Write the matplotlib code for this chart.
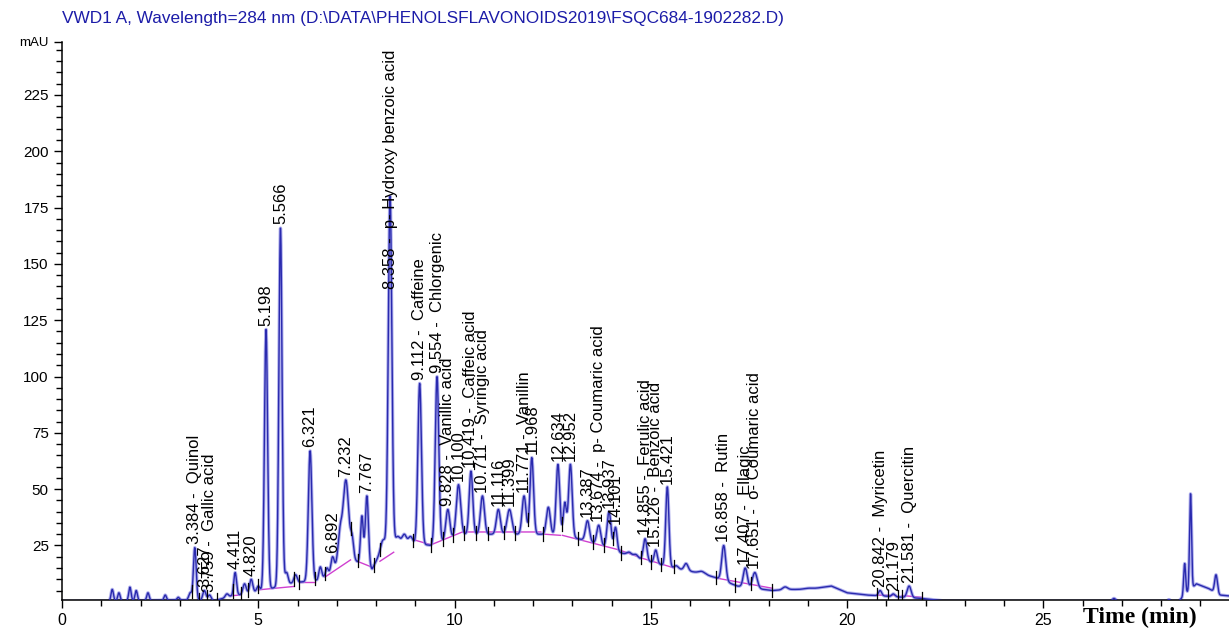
import numpy as np
import matplotlib
matplotlib.use("Agg")
import matplotlib.pyplot as plt
from matplotlib.ticker import MultipleLocator

# ---------------- data ----------------
title = r"VWD1 A, Wavelength=284 nm (D:\DATA\PHENOLSFLAVONOIDS2019\FSQC684-1902282.D)"

# labelled peaks: retention time (min), apex height (mAU), width (sigma, min), name
peak_rt = [3.384, 3.627, 3.759, 4.411, 4.820, 5.198, 5.566, 6.321, 6.892, 7.232,
           7.767, 8.358, 9.112, 9.554, 9.828, 10.100, 10.419, 10.711, 11.116, 11.399,
           11.771, 11.968, 12.634, 12.952, 13.387, 13.674, 13.937, 14.101, 14.855, 15.126,
           15.421, 16.858, 17.407, 17.651, 20.842, 21.179, 21.581]
peak_top = [24, 5, 3, 13, 10, 121, 166, 67, 20, 54,
            47, 180, 97, 100, 41, 52, 58, 47, 41, 41,
            47, 64, 61, 61, 36, 34, 40, 33, 28, 23,
            51, 25, 15, 13, 5, 3.5, 7]
peak_sigma = [0.035, 0.04, 0.04, 0.035, 0.04, 0.04, 0.04, 0.045, 0.04, 0.07,
              0.04, 0.045, 0.045, 0.045, 0.05, 0.055, 0.045, 0.05, 0.05, 0.06,
              0.05, 0.045, 0.045, 0.045, 0.05, 0.05, 0.05, 0.04, 0.045, 0.04,
              0.04, 0.05, 0.05, 0.06, 0.04, 0.04, 0.05]
peak_name = ["Quinol", "", "Gallic acid", "", "", "", "", "", "", "",
             "", "p- Hydroxy benzoic acid", "Caffeine", "Chlorgenic", "Vanillic acid", "",
             "Caffeic acid", "Syringic acid", "", "",
             "Vanillin", "", "", "", "", "p- Coumaric acid", "", "", "Ferulic acid", "Benzoic acid",
             "", "Rutin", "Ellagic", "o- Coumaric acid", "Myricetin", "", "Quercitin"]
label_override = {8.358: 139}

# unlabelled small peaks / shoulders
minor_rt = [1.28, 1.45, 1.73, 1.89, 2.19, 2.63, 2.96, 3.27, 4.20, 4.65, 5.00,
            5.72, 5.95, 6.58, 6.75, 7.08, 7.39, 7.64, 8.16, 8.55, 8.72, 8.88,
            12.39, 12.81, 14.45, 14.62, 15.65, 15.90, 16.30, 18.42, 19.00,
            26.80, 28.20, 28.60, 28.75, 29.40]
minor_top = [5.5, 4, 6.5, 5, 4, 3, 2, 4, 3.5, 8, 7,
             13, 12, 15.5, 15, 30, 27.5, 38, 27, 29, 30, 29,
             42, 44, 22, 21, 16, 17, 13.5, 6.6, 6,
             1.5, 1, 17, 48, 12]
minor_sigma = [0.03, 0.03, 0.03, 0.03, 0.03, 0.03, 0.03, 0.04, 0.04, 0.04, 0.04,
               0.04, 0.04, 0.035, 0.035, 0.05, 0.04, 0.035, 0.05, 0.05, 0.05, 0.05,
               0.05, 0.04, 0.06, 0.06, 0.05, 0.05, 0.08, 0.06, 0.1,
               0.04, 0.03, 0.025, 0.025, 0.035]

# signal floor between peaks
bg_t = [0.0, 1.0, 3.0, 3.9, 4.3, 5.0, 5.9, 6.5, 6.9, 7.1, 7.5, 7.9, 8.2, 8.6, 9.0, 9.4,
        10.2, 12.2, 12.9, 13.4, 14.2, 14.7, 15.6, 16.3, 16.7, 17.2, 18.1, 18.5, 19.0,
        19.6, 20.0, 20.5, 21.0, 21.9, 22.4, 23.5, 28.45, 28.6, 28.9, 29.2, 29.5, 29.8]
bg_h = [0.3, 0.3, 0.8, 0.5, 2.5, 4.5, 8.5, 9.5, 13, 20, 18, 14.5, 25, 27, 26, 25,
        30, 30, 29, 27, 22, 19, 15, 12.5, 10.5, 7, 5, 5.5, 5.5,
        7, 4, 3, 2.5, 1.5, 0.5, 0.3, 0.3, 3, 8, 6, 3, 2.5]

# integration baselines (magenta)
base_runs = [
    [(3.5, 0.5), (4.0, 0.5)],
    [(4.3, 2.7), (4.55, 3.0)],
    [(5.0, 5.3), (5.9, 6.8)],
    [(6.05, 9.0), (6.45, 9.0)],
    [(6.7, 11.0), (7.35, 18.6)],
    [(7.55, 17.8), (7.95, 15.0)],
    [(8.1, 18.0), (8.45, 22.0)],
    [(8.95, 27.6), (9.4, 25.3), (10.2, 31.0), (12.2, 31.0)],
    [(12.3, 30.0), (12.7, 29.5)],
    [(12.75, 29.5), (14.2, 23.0), (14.75, 19.5), (15.6, 15.0)],
    [(16.65, 10.6), (18.1, 6.0)],
    [(20.75, 3.0), (21.25, 2.8)],
    [(21.4, 2.8), (21.9, 2.0)],
]

# integration boundary marks (black)
boundary_t = [3.3, 3.5, 3.7, 3.95, 4.35, 4.55, 4.75, 5.0, 5.9, 6.05, 6.45, 6.7, 7.35,
              7.55, 7.95, 8.1, 8.95, 9.4, 9.7, 9.95, 10.25, 10.55, 10.85, 11.25, 11.55,
              11.88, 12.25, 12.73, 13.15, 13.52, 13.8, 14.03, 14.25, 14.75, 15.0, 15.27,
              15.6, 16.65, 17.15, 17.55, 18.1, 20.75, 21.05, 21.3, 21.4, 21.9]

x_ticks = [0, 5, 10, 15, 20, 25]
y_ticks = [25, 50, 75, 100, 125, 150, 175, 200, 225]
y_top = 248.5
x_max = 29.73

# ---------------- build the trace ----------------
t = np.linspace(0, x_max, 8000)
bg = np.interp(t, bg_t, bg_h)
signal = bg.copy()
for rt, top, s in zip(peak_rt + minor_rt, peak_top + minor_top, peak_sigma + minor_sigma):
    amp = top - np.interp(rt, bg_t, bg_h)
    signal += max(amp, 0) * np.exp(-0.5 * ((t - rt) / s) ** 2)

# ---------------- figure ----------------
plt.rcParams['font.family'] = ['Liberation Sans', 'DejaVu Sans']
fig = plt.figure(figsize=(12.29, 6.29), dpi=100)
ax = fig.add_axes([62 / 1229, 29 / 629, 1 - 62 / 1229, (600 - 42) / 629])

ax.plot(t, signal, color='#8f8fe6', lw=2.4, alpha=0.7, zorder=2.5)
ax.plot(t, signal, color='#2a2aae', lw=1.0, zorder=3)

for run in base_runs:
    xs, ys = zip(*run)
    ax.plot(xs, ys, color='#d040d0', lw=1.0, zorder=2)

for bt in boundary_t:
    v = np.interp(bt, t, signal)
    ax.plot([bt, bt], [v - 3, v + 3], color='black', lw=0.9, zorder=4)

for rt, top, name in zip(peak_rt, peak_top, peak_name):
    txt = f"{rt:.3f} -  {name}" if name else f"{rt:.3f}"
    yb = label_override.get(rt, top + 1.5)
    ax.text(rt, yb, txt, rotation=90, ha='center', va='bottom', fontsize=12,
            color='black', zorder=5, clip_on=False)

ax.set_xlim(0, x_max)
ax.set_ylim(0.8, y_top)
ax.set_xticks(x_ticks)
ax.xaxis.set_minor_locator(MultipleLocator(1))
ax.set_yticks(y_ticks + [y_top])
ax.set_yticklabels([str(v) for v in y_ticks] + ['mAU'])
ax.yaxis.set_minor_locator(MultipleLocator(5))
ax.tick_params(axis='both', which='major', length=6, width=1, labelsize=11.5, direction='out')
ax.tick_params(axis='both', which='minor', length=4, width=1, direction='out')
ax.tick_params(axis='y', labelsize=11)
ax.get_yticklabels()[-1].set_fontsize(9.5)
for sp in ['top', 'right']:
    ax.spines[sp].set_visible(False)
ax.spines['left'].set_linewidth(1.1)
ax.spines['bottom'].set_linewidth(1.1)
ax.set_facecolor('white')

fig.text(62 / 1229, 1 - 18 / 629, title, ha='left', va='center', fontsize=12.4, color='#1c1ca8')
fig.text(1140 / 1229, 1 - 617 / 629, "Time (min)", ha='center', va='center', fontsize=17,
         fontweight='bold', family='Liberation Serif')

fig.savefig('out.png', dpi=100, facecolor='white')
